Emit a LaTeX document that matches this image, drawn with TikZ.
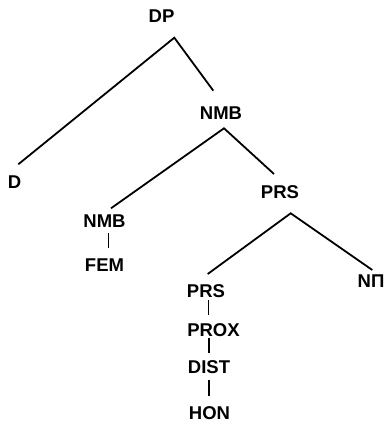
\documentclass[tikz,border=0pt]{standalone}
\usepackage{fontspec}
\setmainfont{Liberation Sans}
\begin{document}
\begin{tikzpicture}[x=1pt,y=-1pt,
  lbl/.style={font=\fontsize{18.5}{21}\selectfont\bfseries, inner sep=0pt, anchor=center},
  edge/.style={line width=1.8pt, black}]
\useasboundingbox (0,0) rectangle (387,427);
% labels
\node[lbl] (dp) at (161.5,16) {DP};
\node[lbl] (d) at (14.5,182.5) {D};
\node[lbl] (nmb) at (221,113.5) {NMB};
\node[lbl] (prs) at (280,192.5) {PRS};
\node[lbl] (nmb2) at (104.5,221.5) {NMB};
\node[lbl] (fem) at (104.5,265.5) {FEM};
\node[lbl] (npi) at (371,281) {NΠ};
\node[lbl] (prs2) at (206,291) {PRS};
\node[lbl] (prox) at (213.5,330) {PROX};
\node[lbl] (dist) at (209,367) {DIST};
\node[lbl] (hon) at (209.5,413) {HON};
% connector points
\coordinate (dpA) at (174.3,37.7);
\coordinate (dEnd) at (18.3,164.3);
\coordinate (nmbEnd) at (213.3,90.7);
\coordinate (nmbA) at (224,128.3);
\coordinate (nmb2End) at (111,208.3);
\coordinate (prsEnd) at (274,174);
\coordinate (prsA) at (290.7,213.3);
\coordinate (prs2End) at (207.7,274);
\coordinate (npiEnd) at (372.3,270);
\coordinate (nmb2B) at (108.5,233);
\coordinate (femT) at (108.5,247.5);
\coordinate (prs2B) at (208.5,300);
\coordinate (proxT) at (208.5,315);
\coordinate (proxB) at (209,337.5);
\coordinate (distT) at (209,353);
\coordinate (distB) at (209,380);
\coordinate (honT) at (209,396);
% connectors
\draw[edge] (dEnd) -- (dpA) -- (nmbEnd);
\draw[edge] (nmb2End) -- (nmbA) -- (prsEnd);
\draw[edge] (prs2End) -- (prsA) -- (npiEnd);
\draw[edge] (nmb2B) -- (femT);
\draw[edge] (prs2B) -- (proxT);
\draw[edge] (proxB) -- (distT);
\draw[edge] (distB) -- (honT);
\end{tikzpicture}
\end{document}
